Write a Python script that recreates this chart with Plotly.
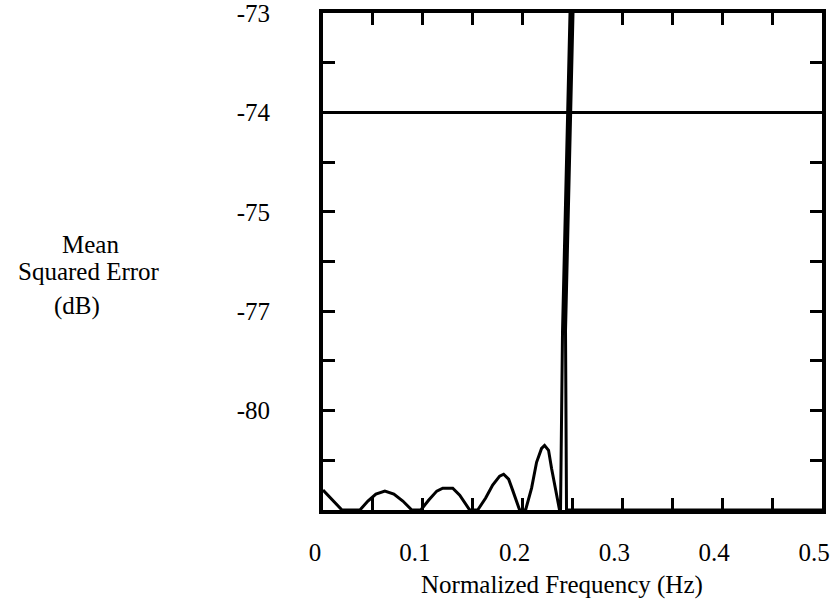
import numpy as np
import plotly.graph_objects as go

# ---- data ----
freq = [0.000, 0.008, 0.014, 0.019, 0.037, 0.045, 0.053, 0.062, 0.071, 0.080, 0.089,
        0.098, 0.106, 0.114, 0.120, 0.130, 0.137, 0.142, 0.147,
        0.155, 0.163, 0.170, 0.177, 0.181, 0.186, 0.190, 0.194, 0.197,
        0.203, 0.209, 0.214, 0.219, 0.222, 0.226, 0.229, 0.232, 0.235, 0.237,
        0.238, 0.240, 0.2475, 0.2505, 0.243, 0.244, 0.500]
mse_db = [-84.0, -84.4, -84.75, -85.0, -85.0, -84.55, -84.2, -84.05, -84.2, -84.55, -85.0,
          -85.0, -84.5, -84.05, -83.9, -83.9, -84.25, -84.6, -85.0,
          -85.0, -84.4, -83.75, -83.3, -83.2, -83.45, -84.0, -84.6, -85.0,
          -85.0, -83.9, -82.6, -81.9, -81.75, -82.0, -82.9, -83.75, -84.6, -85.0,
          -85.0, -77.6, -73.0, -73.0, -77.6, -85.0, -85.0]
threshold_freq = [0.0, 0.5]
threshold_db = [-74.0, -74.0]

x_tick_vals = [0.0, 0.1, 0.2, 0.3, 0.4, 0.5]
x_tick_text = ["0", "0.1", "0.2", "0.3", "0.4", "0.5"]
# non-uniform MSE axis: labelled levels (bottom level unlabelled)
y_scale_db = [-85, -80, -77, -75, -74, -73]
y_scale_pos = [0, 2, 4, 6, 8, 10]
y_tick_text = ["", "-80", "-77", "-75", "-74", "-73"]


def to_axis(db):
    return np.interp(np.asarray(db, dtype=float), y_scale_db, y_scale_pos)


FONT = "Liberation Serif, Times New Roman, serif"
INK = "black"

fig = go.Figure()
fig.add_trace(go.Scatter(x=freq, y=to_axis(mse_db), mode="lines",
                         line=dict(color=INK, width=3), showlegend=False,
                         cliponaxis=True))
fig.add_trace(go.Scatter(x=threshold_freq, y=to_axis(threshold_db), mode="lines",
                         line=dict(color=INK, width=3), showlegend=False))

axis_common = dict(showline=True, linecolor=INK, linewidth=4, mirror="allticks",
                   ticks="inside", ticklen=12, tickwidth=3, tickcolor=INK,
                   showgrid=False, zeroline=False, automargin=False,
                   ticklabeloverflow="allow",
                   tickfont=dict(family=FONT, size=25, color=INK))

fig.update_xaxes(range=[0, 0.5], tickmode="array", tickvals=x_tick_vals,
                 ticktext=x_tick_text, ticklabelstandoff=17, ticklabelshift=-8,
                 minor=dict(dtick=0.05, ticks="inside", ticklen=12, tickwidth=3,
                            tickcolor=INK, showgrid=False),
                 **axis_common)
fig.update_yaxes(range=[0, 10], tickmode="array", tickvals=y_scale_pos,
                 ticktext=y_tick_text, ticklabelstandoff=44,
                 minor=dict(dtick=1, ticks="inside", ticklen=12, tickwidth=3,
                            tickcolor=INK, showgrid=False),
                 **axis_common)

ann_font = dict(family=FONT, size=25, color=INK)
fig.add_annotation(text="Mean", xref="paper", yref="paper", x=-0.465, y=0.535,
                   showarrow=False, font=ann_font, xanchor="center", yanchor="middle")
fig.add_annotation(text="Squared Error", xref="paper", yref="paper", x=-0.469, y=0.480,
                   showarrow=False, font=ann_font, xanchor="center", yanchor="middle")
fig.add_annotation(text="(dB)", xref="paper", yref="paper", x=-0.493, y=0.410,
                   showarrow=False, font=ann_font, xanchor="center", yanchor="middle")
fig.add_annotation(text="Normalized Frequency (Hz)", xref="paper", yref="paper",
                   x=0.479, y=-0.150, showarrow=False, font=ann_font,
                   xanchor="center", yanchor="middle")

fig.update_layout(width=834, height=610,
                  margin=dict(l=323, r=12, t=13, b=100),
                  paper_bgcolor="white", plot_bgcolor="white",
                  showlegend=False)

fig.write_html("out.html")
